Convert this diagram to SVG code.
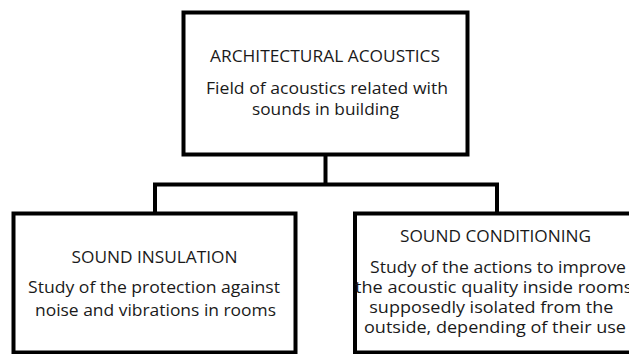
<svg xmlns="http://www.w3.org/2000/svg" width="629" height="354" viewBox="0 0 629 354">
<style>
.box{fill:#fff;stroke:#000;stroke-width:4}
.con{fill:none;stroke:#000;stroke-width:4}
text{font-family:"Open Sans","Liberation Sans",Arial,sans-serif;font-size:16px;fill:#1a1a1a;text-anchor:middle}
</style>
<rect x="0" y="0" width="629" height="354" fill="#fff"/>
<g id="connectors">
<path class="con" d="M325.5 154 V184.5"/>
<path class="con" d="M155 214 V184.5 H497 V214"/>
</g>
<g id="architectural-acoustics">
<rect class="box" x="183.5" y="12.5" width="284" height="142"/>
<text x="325" y="62" textLength="230" lengthAdjust="spacingAndGlyphs">ARCHITECTURAL ACOUSTICS</text>
<text x="327" y="94" textLength="242" lengthAdjust="spacingAndGlyphs">Field of acoustics related with</text>
<text x="325.5" y="115" textLength="147" lengthAdjust="spacingAndGlyphs">sounds in building</text>
</g>
<g id="sound-insulation">
<rect class="box" x="13.5" y="213.5" width="282" height="139"/>
<text x="154.5" y="263" textLength="166" lengthAdjust="spacingAndGlyphs">SOUND INSULATION</text>
<text x="154" y="293" textLength="252" lengthAdjust="spacingAndGlyphs">Study of the protection against</text>
<text x="155.5" y="316" textLength="241" lengthAdjust="spacingAndGlyphs">noise and vibrations in rooms</text>
</g>
<g id="sound-conditioning">
<rect class="box" x="355" y="213.5" width="290" height="139"/>
<text x="495.5" y="241.5" textLength="191" lengthAdjust="spacingAndGlyphs">SOUND CONDITIONING</text>
<text x="498" y="272.5" textLength="256" lengthAdjust="spacingAndGlyphs">Study of the actions to improve</text>
<text x="496" y="292.5" textLength="282" lengthAdjust="spacingAndGlyphs">the acoustic quality inside rooms,</text>
<text x="491.3" y="312.5" textLength="244" lengthAdjust="spacingAndGlyphs">supposedly isolated from the</text>
<text x="495" y="333" textLength="262" lengthAdjust="spacingAndGlyphs">outside, depending of their use</text>
</g>
</svg>
